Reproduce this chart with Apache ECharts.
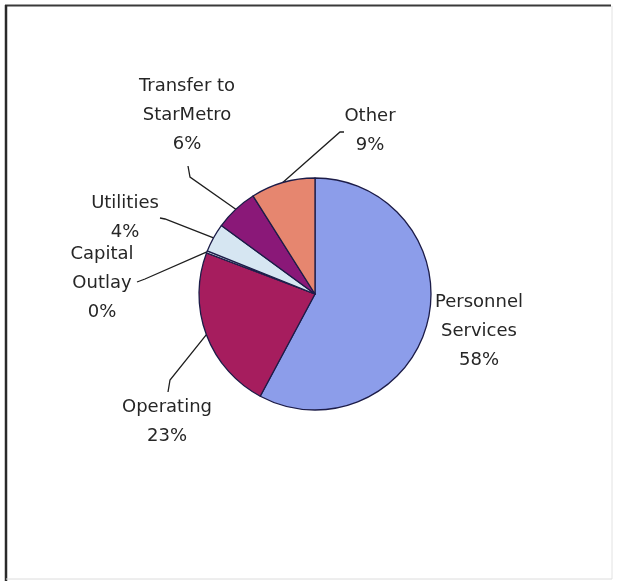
<!DOCTYPE html>
<html>
<head>
<meta charset="utf-8">
<script src="https://cdn.jsdelivr.net/npm/echarts@6/dist/echarts.min.js"></script>
<style>
  html, body { margin: 0; padding: 0; background: #ffffff; }
  #chart { width: 618px; height: 581px; }
</style>
</head>
<body>
<div id="chart"></div>
<script>
// Budget share by category (percent of total)
const categories = ['Personnel\nServices', 'Operating', 'Capital\nOutlay', 'Utilities', 'Transfer to\nStarMetro', 'Other'];
const shares = [58, 23, 0.3, 4, 6, 9];
const sliceColors = ['#8C9DEA', '#A61D5E', '#E4EEF6', '#D6E6F2', '#8A1878', '#E6866F'];

// Label anchor (centre of text block) and leader-line bends for each category
const labelSpots = [
  { at: [479, 331], bend: null },
  { at: [167, 422], bend: [[170, 380], [168, 392]] },
  { at: [102, 283], bend: [[145, 279], [137, 282]] },
  { at: [125, 218], bend: [[165, 219], [160, 218]] },
  { at: [187, 115], bend: [[190, 177], [188, 166]] },
  { at: [370, 131], bend: [[340, 132], [344, 132]] }
];

const pieCenter = [315, 294];
const pieRadius = 116;

// Point on the rim at the middle of slice i (start at 12 o'clock, clockwise)
const total = shares.reduce((a, b) => a + b, 0);
function rimPoint(i) {
  let before = 0;
  for (let k = 0; k < i; k++) before += shares[k];
  const mid = (before + shares[i] / 2) / total * Math.PI * 2;
  return [pieCenter[0] + pieRadius * Math.sin(mid), pieCenter[1] - pieRadius * Math.cos(mid)];
}

const chart = echarts.init(document.getElementById('chart'));
chart.setOption({
  backgroundColor: '#ffffff',
  animation: false,
  graphic: [
    { type: 'line', shape: { x1: 5, y1: 5.5, x2: 611, y2: 5.5 }, style: { stroke: '#3a3a3a', lineWidth: 2 } },
    { type: 'line', shape: { x1: 6, y1: 5, x2: 6, y2: 581 }, style: { stroke: '#2a2a2a', lineWidth: 2.5 } },
    { type: 'line', shape: { x1: 612, y1: 6, x2: 612, y2: 579 }, style: { stroke: '#e2e2e2', lineWidth: 1 } },
    { type: 'line', shape: { x1: 6, y1: 579, x2: 612, y2: 579 }, style: { stroke: '#dcdcdc', lineWidth: 1 } }
  ],
  series: [{
    type: 'pie',
    center: pieCenter,
    radius: pieRadius,
    startAngle: 90,
    clockwise: true,
    avoidLabelOverlap: false,
    minAngle: 0,
    itemStyle: { borderColor: '#1c1c48', borderWidth: 1.3 },
    label: {
      show: true,
      position: 'outside',
      fontFamily: 'DejaVu Sans',
      fontSize: 18,
      lineHeight: 29,
      color: '#262626',
      align: 'center',
      formatter: p => p.name + '\n' + Math.round(p.value) + '%'
    },
    labelLine: { show: true, lineStyle: { color: '#1e1e1e', width: 1.3 } },
    labelLayout: function (params) {
      const spot = labelSpots[params.dataIndex];
      const out = { x: spot.at[0], y: spot.at[1], align: 'center', verticalAlign: 'middle' };
      if (spot.bend) {
        out.labelLinePoints = [rimPoint(params.dataIndex), spot.bend[0], spot.bend[1]];
      }
      return out;
    },
    emphasis: { disabled: true },
    data: categories.map((name, i) => ({
      name: name,
      value: shares[i],
      itemStyle: { color: sliceColors[i] },
      labelLine: { show: labelSpots[i].bend !== null }
    }))
  }]
});
</script>
</body>
</html>
